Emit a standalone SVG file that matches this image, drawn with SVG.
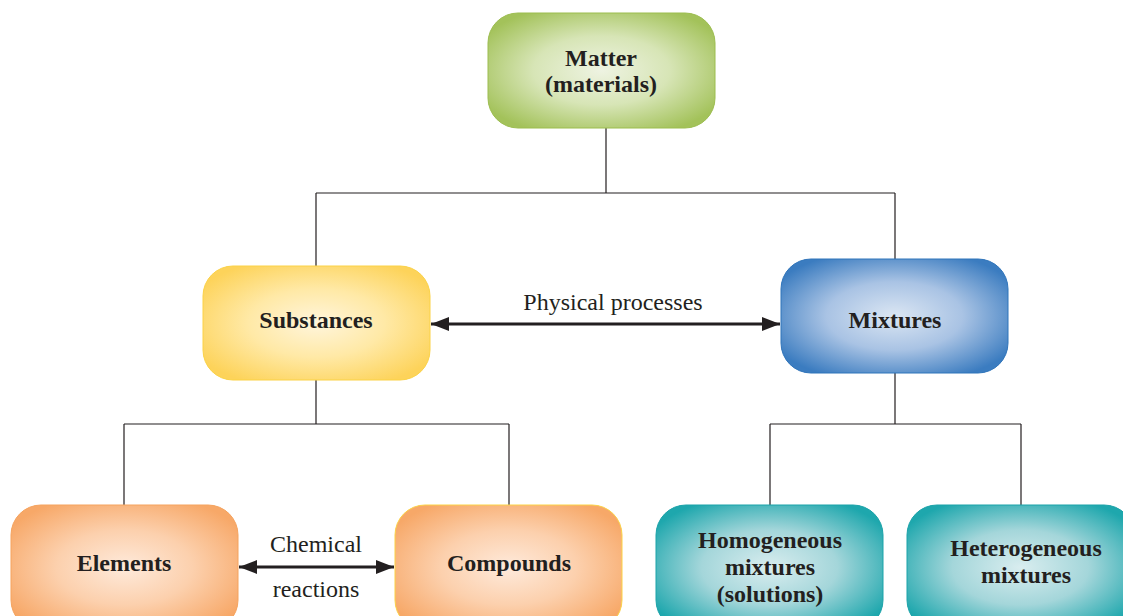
<svg xmlns="http://www.w3.org/2000/svg" width="1123" height="616" viewBox="0 0 1123 616">
<defs>
<radialGradient id="gGreen" cx="0.5" cy="0.5" r="0.6"><stop offset="0" stop-color="#eef3e2"/><stop offset="0.5" stop-color="#d7e5b6"/><stop offset="1" stop-color="#a3c25a"/></radialGradient>
<radialGradient id="gYellow" cx="0.5" cy="0.5" r="0.6"><stop offset="0" stop-color="#fff5dc"/><stop offset="0.5" stop-color="#ffe9a6"/><stop offset="1" stop-color="#fdd35a"/></radialGradient>
<radialGradient id="gBlue" cx="0.5" cy="0.5" r="0.6"><stop offset="0" stop-color="#dbe6f3"/><stop offset="0.5" stop-color="#a9c3e4"/><stop offset="1" stop-color="#3b7cc0"/></radialGradient>
<radialGradient id="gOrange" cx="0.5" cy="0.5" r="0.6"><stop offset="0" stop-color="#feeadb"/><stop offset="0.5" stop-color="#fcd0ad"/><stop offset="1" stop-color="#f7a868"/></radialGradient>
<radialGradient id="gTeal" cx="0.5" cy="0.5" r="0.6"><stop offset="0" stop-color="#d9edef"/><stop offset="0.5" stop-color="#a4d6da"/><stop offset="1" stop-color="#1ea7ad"/></radialGradient>
<marker id="ah" viewBox="0 0 10 10" refX="10" refY="5" markerWidth="18" markerHeight="14" markerUnits="userSpaceOnUse" orient="auto-start-reverse" preserveAspectRatio="none"><path d="M0,0 L10,5 L0,10 z" fill="#231f20"/></marker>
<style>
.lbl{font-family:"Liberation Serif",serif;font-weight:bold;font-size:24px;fill:#231f20;text-anchor:middle}
.txt{font-family:"Liberation Serif",serif;font-size:24px;fill:#231f20;text-anchor:middle}
.ln{fill:none;stroke:#231f20;stroke-width:1.2}
.arr{fill:none;stroke:#231f20;stroke-width:3}
</style>
</defs>
<g id="connectors">
<path class="ln" d="M606,128 V193 M316,193 H895 M316,193 V266 M895,193 V259"/>
<path class="ln" d="M316,380 V424 M124,424 H509 M124,424 V505 M509,424 V505"/>
<path class="ln" d="M895,373 V424 M770,424 H1021 M770,424 V505 M1021,424 V505"/>
<line class="arr" x1="431" y1="324" x2="780" y2="324" marker-start="url(#ah)" marker-end="url(#ah)"/>
<text class="txt" x="613" y="310">Physical processes</text>
<line class="arr" x1="239" y1="567" x2="394" y2="567" marker-start="url(#ah)" marker-end="url(#ah)"/>
<text class="txt" x="316" y="552">Chemical</text>
<text class="txt" x="316" y="597">reactions</text>
</g>
<g id="matter">
<rect x="488" y="13" width="227" height="115" rx="30" fill="url(#gGreen)" stroke="#9cbd4f"/>
<text class="lbl" x="601" y="66">Matter</text>
<text class="lbl" x="601" y="92">(materials)</text>
</g>
<g id="substances">
<rect x="203" y="266" width="227" height="114" rx="30" fill="url(#gYellow)" stroke="#fbd247"/>
<text class="lbl" x="316" y="328">Substances</text>
</g>
<g id="mixtures">
<rect x="781" y="259" width="227" height="114" rx="30" fill="url(#gBlue)" stroke="#2f74ba"/>
<text class="lbl" x="895" y="328">Mixtures</text>
</g>
<g id="elements">
<rect x="11" y="505" width="227" height="125" rx="30" fill="url(#gOrange)" stroke="#f5a35e"/>
<text class="lbl" x="124" y="571">Elements</text>
</g>
<g id="compounds">
<rect x="395" y="505" width="227" height="125" rx="30" fill="url(#gOrange)" stroke="#fbd247"/>
<text class="lbl" x="509" y="571">Compounds</text>
</g>
<g id="homogeneous">
<rect x="656" y="505" width="227" height="125" rx="30" fill="url(#gTeal)" stroke="#1aa3a9"/>
<text class="lbl" x="770" y="548">Homogeneous</text>
<text class="lbl" x="770" y="575">mixtures</text>
<text class="lbl" x="770" y="602">(solutions)</text>
</g>
<g id="heterogeneous">
<rect x="907" y="505" width="227" height="125" rx="30" fill="url(#gTeal)" stroke="#1aa3a9"/>
<text class="lbl" x="1026" y="556">Heterogeneous</text>
<text class="lbl" x="1026" y="583">mixtures</text>
</g>
</svg>
